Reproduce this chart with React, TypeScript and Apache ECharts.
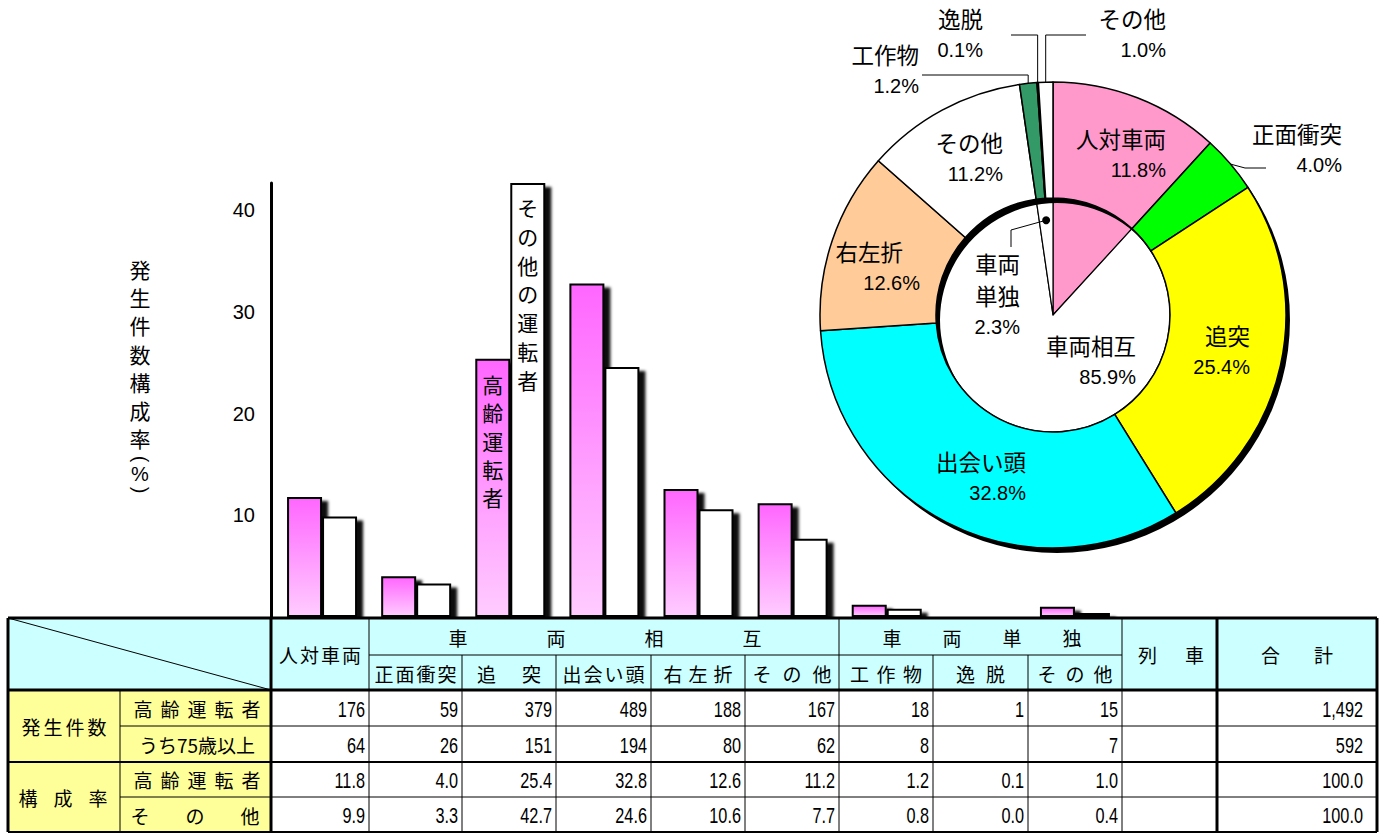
import React, { useEffect, useRef } from 'react';
import * as echarts from 'echarts';

// ---------------- data ----------------
const categories = ['人対車両', '正面衝突', '追突', '出会い頭', '右左折', 'その他', '工作物', '逸脱', 'その他'];
const seriesNames = ['高齢運転者', 'その他の運転者'];
const elderlyRate = [11.8, 4.0, 25.4, 32.8, 12.6, 11.2, 1.2, 0.1, 1.0];
const otherRate = [9.9, 3.3, 42.7, 24.6, 10.6, 7.7, 0.8, 0.0, 0.4];
const elderlyCount = [176, 59, 379, 489, 188, 167, 18, 1, 15];
const over75Count: (number | null)[] = [64, 26, 151, 194, 80, 62, 8, null, 7];
const trainColumn: (number | null)[] = [null, null, null, null];
const totalColumn = [1492, 592, 100.0, 100.0];
const yTicks = [10, 20, 30, 40];
const innerNames = ['人対車両', '車両相互', '車両単独'];
const innerValues = [11.8, 85.9, 2.3];
const headerGroups = ['車両相互', '車両単独'];
const headerSingles = ['人対車両', '列車', '合計'];
const rowGroupLabels = ['発生件数', '構成率'];
const rowLabels = ['高齢運転者', 'うち75歳以上', '高齢運転者', 'その他'];
const yTitle = '発生件数構成率';

// ---------------- styles ----------------
const CJK = '"Noto Sans CJK JP", "Noto Sans", sans-serif';
const NUM = '"Liberation Sans", Arial, sans-serif';
const AXF = '"Liberation Sans", Arial, sans-serif';
const RING_COLORS = ['#FF99CC', '#00FF00', '#FFFF00', '#00FFFF', '#FFCC99', '#FFFFFF', '#339966', '#FFFFFF', '#FFFFFF'];
const INNER_COLORS = ['#FF99CC', '#FFFFFF', '#FFFFFF'];
const CX = 1053, CY = 315, R0 = 117, R1 = 233;
const OUTSIDE = [1, 6, 7, 8];
// [right x, middle y] of each ring label
const RING_LABEL_POS: number[][] = [
  [1166, 154], [1342, 149], [1250, 351], [1026, 477], [920, 267], [1003, 158], [919, 70], [983, 34], [1166, 34],
];
// leader: [bend, end] (bend x null = vertical rise from slice edge)
const RING_LEADER: Record<number, number[][]> = {
  1: [[1245, 168], [1266, 168]],
  6: [[null as any, 75], [922, 75]],
  7: [[null as any, 35], [1011, 35]],
  8: [[null as any, 35], [1086, 35]],
};
const INNER_LABEL_POS: number[][] = [[0, 0], [1136, 361], [1020, 295]];
const INNER_LEADER = [[1011, 230], [1011, 247]];

const sum = (a: number[]) => a.reduce((s, v) => s + v, 0);
const midAngle = (vals: number[], i: number) =>
  ((sum(vals.slice(0, i)) + vals[i] / 2) / sum(vals)) * Math.PI * 2;
const polar = (r: number, a: number) => [CX + r * Math.sin(a), CY - r * Math.cos(a)];

function buildGraphics(): any[] {
  const els: any[] = [];
  const L = 8, R = 1377, T = 618, SUB = 655, H = 690, B = 832, LS = 120, DL = 271;
  const COL_X = [271, 369, 462, 556, 651, 745, 839, 933, 1028, 1122, 1217, R];
  const ROW_Y = [H, 726, 762, 797, B];

  els.push({ type: 'rect', z: 10, shape: { x: L, y: T, width: R - L, height: H - T }, style: { fill: '#CCFFFF' } });
  els.push({ type: 'rect', z: 10, shape: { x: L, y: H, width: DL - L, height: B - H }, style: { fill: '#FFFF99' } });

  const line = (x1: number, y1: number, x2: number, y2: number, w: number) =>
    els.push({ type: 'line', z: 11, shape: { x1, y1, x2, y2 }, style: { stroke: '#000', lineWidth: w } });
  const txt = (text: string, x: number, y: number, size = 19, font = CJK, align = 'center', extra: any = {}) =>
    els.push({
      type: 'text', z: 12, x, y, ...extra,
      style: { text, fill: '#000', fontSize: size, fontFamily: font, align, verticalAlign: 'middle', textAlign: align, textVerticalAlign: 'middle' },
    });
  const spread = (text: string, cx: number, cy: number, pitch: number, size = 19) => {
    const chars = Array.from(text);
    chars.forEach((ch, i) => txt(ch, cx + (i - (chars.length - 1) / 2) * pitch, cy, size));
  };

  // lines
  line(369, SUB, 1122, SUB, 1);
  [462, 556, 651, 745, 933, 1028].forEach((x) => line(x, SUB, x, B, 1));
  [369, 839, 1122].forEach((x) => line(x, T, x, B, 1));
  line(LS, H, LS, B, 1);
  line(LS, 726, R, 726, 1);
  line(LS, 797, R, 797, 1);
  line(L, 762, R, 762, 2);
  line(L, T, DL, H, 1);
  line(L, T, R, T, 3);
  line(L, B, R, B, 2);
  line(L, T, L, B, 3);
  line(R, T, R, B, 3);
  line(L, H, R, H, 3);
  line(DL, T, DL, B, 3);
  line(1217, T, 1217, B, 3);

  // header texts
  spread(headerSingles[0], 320, 654, 21);
  spread(headerGroups[0], 605, 637, 98);
  spread(headerGroups[1], 982, 637, 60);
  spread(headerSingles[1], 1171, 654, 47);
  spread(headerSingles[2], 1297, 654, 53);
  const subPitch = [0, 21, 45, 21, 25, 30, 26.5, 30, 28];
  for (let i = 1; i < categories.length; i++) {
    spread(categories[i], (COL_X[i] + COL_X[i + 1]) / 2, 673, subPitch[i]);
  }

  // row labels
  spread(rowGroupLabels[0], 64, 726, 22);
  spread(rowGroupLabels[1], 63, 797, 35);
  spread(rowLabels[0], 197, 708, 27);
  txt(rowLabels[1], 197, 744, 19);
  spread(rowLabels[2], 197, 779, 27);
  spread(rowLabels[3], 195, 815, 55);

  // data cells
  const fmtCount = (v: number | null) => (v == null ? '' : v.toLocaleString('en-US'));
  const fmtRate = (v: number | null) => (v == null ? '' : v.toFixed(1));
  const rows: (number | null)[][] = [
    [...elderlyCount, trainColumn[0], totalColumn[0]],
    [...over75Count, trainColumn[1], totalColumn[1]],
    [...elderlyRate, trainColumn[2], totalColumn[2]],
    [...otherRate, trainColumn[3], totalColumn[3]],
  ];
  rows.forEach((row, r) => {
    const fmt = r < 2 ? fmtCount : fmtRate;
    const cy = (ROW_Y[r] + ROW_Y[r + 1]) / 2 + 1;
    row.forEach((v, c) => {
      const s = fmt(v);
      if (!s) return;
      const rx = COL_X[c + 1] - (c === row.length - 1 ? 14 : 4);
      txt(s, rx, cy, 22, NUM, 'right', { scaleX: 0.74 });
    });
  });

  // y axis title (vertical)
  Array.from(yTitle).forEach((ch, i) => txt(ch, 140, 269 + i * 28.2, 21));
  txt('(', 141, 459, 20, AXF, 'center', { rotation: -Math.PI / 2 });
  txt('%', 140, 474, 20, AXF);
  txt(')', 141, 490, 20, AXF, 'center', { rotation: -Math.PI / 2 });

  // inner leader line + dot (車両単独)
  const a = midAngle(innerValues, 2);
  const dot = polar(95, a);
  els.push({ type: 'circle', z: 20, shape: { cx: dot[0], cy: dot[1], r: 4 }, style: { fill: '#000' } });
  els.push({
    type: 'polyline', z: 20,
    shape: { points: [dot, ...INNER_LEADER] },
    style: { stroke: '#000', lineWidth: 1, fill: null },
  });
  return els;
}

export default function App() {
  const ref = useRef<HTMLDivElement>(null);
  useEffect(() => {
    if (!ref.current) return;
    const chart = echarts.init(ref.current, undefined, { renderer: 'svg' });
    const pinkGrad = new echarts.graphic.LinearGradient(0, 0, 0, 1, [
      { offset: 0, color: '#FF66FF' },
      { offset: 1, color: '#FFCCFF' },
    ]);
    const barShadow = { shadowColor: 'rgba(0,0,0,0.95)', shadowBlur: 3, shadowOffsetX: 6, shadowOffsetY: 4 };
    const vLabel = (dist: number, lh: number) => ({
      show: false,
      position: 'insideTop',
      distance: dist,
      fontSize: 21,
      lineHeight: lh,
      fontFamily: CJK,
      color: '#000',
      formatter: (p: any) => Array.from(p.seriesName as string).join('\n'),
    });
    const withLabel = (vals: number[]) => vals.map((v, i) => (i === 2 ? { value: v, label: { show: true } } : v));

    const ringData = categories.map((n, i) => {
      const d: any = { name: n, value: elderlyRate[i], itemStyle: { color: RING_COLORS[i] } };
      if (OUTSIDE.includes(i)) {
        d.label = { position: 'outside' };
        d.labelLine = { show: true };
      }
      return d;
    });
    const pieRich = {
      n: { fontSize: 22.5, fontFamily: CJK, lineHeight: 32, color: '#000' },
      n2: { fontSize: 22.5, fontFamily: CJK, lineHeight: 32, color: '#000', padding: [0, 17, 0, 0] },
      p: { fontSize: 20, fontFamily: NUM, lineHeight: 32, color: '#000' },
    };

    const option: any = {
      animation: false,
      backgroundColor: '#fff',
      grid: { left: 275, right: 262, top: 183, bottom: 217 },
      xAxis: {
        type: 'category',
        data: categories,
        axisLine: { show: false },
        axisTick: { show: false },
        axisLabel: { show: false },
      },
      yAxis: {
        type: 'value',
        min: 0,
        max: 42.7,
        interval: 10,
        offset: 4,
        axisLine: { show: true, lineStyle: { color: '#000', width: 3 } },
        axisTick: { show: false },
        splitLine: { show: false },
        axisLabel: {
          color: '#000',
          fontSize: 20,
          fontFamily: AXF,
          margin: 16,
          formatter: (v: number) => (yTicks.includes(v) ? String(v) : ''),
        },
      },
      series: [
        {
          type: 'bar',
          name: seriesNames[0],
          data: withLabel(elderlyRate),
          barWidth: 35,
          barGap: '0%',
          itemStyle: { color: pinkGrad, borderColor: '#000', borderWidth: 2, ...barShadow },
          label: vLabel(11, 28.3),
          emphasis: { disabled: true },
          silent: true,
        },
        {
          type: 'bar',
          name: seriesNames[1],
          data: withLabel(otherRate),
          barWidth: 35,
          barGap: '0%',
          itemStyle: { color: '#FFFFFF', borderColor: '#000', borderWidth: 2, ...barShadow },
          label: vLabel(10, 28.7),
          emphasis: { disabled: true },
          silent: true,
        },
        {
          type: 'pie',
          name: 'inner',
          radius: [0, R0],
          center: [CX, CY],
          startAngle: 90,
          clockwise: true,
          avoidLabelOverlap: false,
          silent: true,
          itemStyle: { borderColor: '#000', borderWidth: 1.2 },
          data: innerNames.map((n, i) => ({
            name: n,
            value: innerValues[i],
            itemStyle: { color: INNER_COLORS[i] },
            label: { show: i > 0, position: 'inside' },
          })),
          label: {
            formatter: (p: any) => {
              const nm = p.dataIndex === 2 ? `{n|${p.name.slice(0, 2)}}\n{n|${p.name.slice(2)}}` : `{n|${p.name}}`;
              return `${nm}\n{p|${p.value.toFixed(1)}%}`;
            },
            rich: pieRich,
          },
          labelLine: { show: false },
          labelLayout: (p: any) => {
            const pos = INNER_LABEL_POS[p.dataIndex];
            return { x: pos[0], y: pos[1], align: 'right', verticalAlign: 'middle' };
          },
        },
        {
          type: 'pie',
          name: 'shadow',
          radius: [R0, R1],
          center: [CX + 4, CY + 5],
          silent: true,
          label: { show: false },
          labelLine: { show: false },
          itemStyle: { color: '#000' },
          data: [{ name: '', value: 1 }],
        },
        {
          type: 'pie',
          name: 'ring',
          radius: [R0, R1],
          center: [CX, CY],
          startAngle: 90,
          clockwise: true,
          avoidLabelOverlap: false,
          silent: true,
          itemStyle: { borderColor: '#000', borderWidth: 1.5 },
          data: ringData,
          label: {
            show: true,
            position: 'inside',
            formatter: (p: any) =>
              `{${p.dataIndex === 4 ? 'n2' : 'n'}|${p.name}}\n{p|${p.value.toFixed(1)}%}`,
            rich: pieRich,
          },
          labelLine: { show: false, lineStyle: { color: '#000', width: 1 }, length: 10, length2: 10 },
          labelLayout: (p: any) => {
            const i = p.dataIndex;
            const pos = RING_LABEL_POS[i];
            const out: any = { x: pos[0], y: pos[1], align: 'right', verticalAlign: 'middle' };
            const ld = RING_LEADER[i];
            if (ld) {
              const start = polar(R1, midAngle(elderlyRate, i));
              const bend = [ld[0][0] == null ? start[0] : ld[0][0], ld[0][1]];
              out.labelLinePoints = [start, bend, ld[1]];
            }
            return out;
          },
        },
      ],
      graphic: { elements: buildGraphics() },
    };
    chart.setOption(option);
    return () => chart.dispose();
  }, []);
  return <div ref={ref} style={{ position: 'absolute', left: 0, top: 0, width: 1384, height: 834 }} />;
}
